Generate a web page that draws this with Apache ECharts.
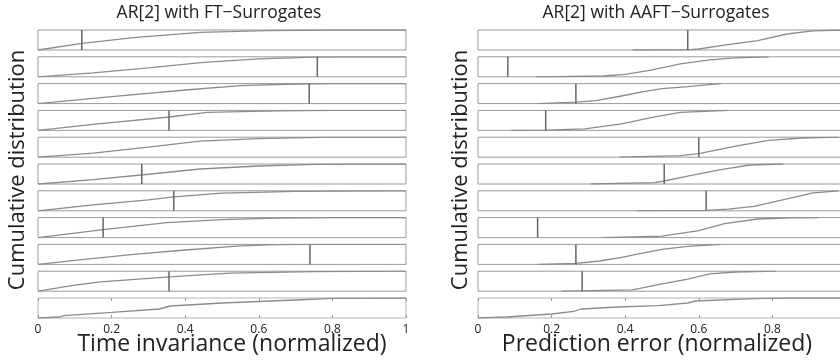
<!DOCTYPE html>
<html>
<head>
<meta charset="utf-8">
<script src="https://cdn.jsdelivr.net/npm/echarts@6/dist/echarts.min.js"></script>
<style>
  html, body { margin: 0; padding: 0; background: #fff; overflow: hidden; }
  #chart { width: 860px; height: 362px; }
</style>
</head>
<body>
<div id="chart"></div>
<script>
// Empirical cumulative distributions of the surrogate statistic, one strip per realisation.
// Each curve is a list of [value, cumulative fraction] points; the marker is the value for the original series.
const ftCurves = [
  [[0,0],[0.12,0.33],[0.26,0.62],[0.44,0.88],[0.62,0.97],[0.8,1],[1,1]],
  [[0,0],[0.15,0.2],[0.3,0.45],[0.45,0.72],[0.6,0.9],[0.75,0.98],[0.85,1],[1,1]],
  [[0,0],[0.2,0.35],[0.4,0.68],[0.55,0.9],[0.7,0.98],[0.8,1],[1,1]],
  [[0,0],[0.15,0.3],[0.356,0.67],[0.46,0.9],[0.65,0.98],[0.8,1],[1,1]],
  [[0,0],[0.15,0.2],[0.3,0.5],[0.44,0.8],[0.6,0.93],[0.8,1],[1,1]],
  [[0,0],[0.15,0.22],[0.28,0.45],[0.44,0.75],[0.6,0.9],[0.75,0.98],[0.9,1],[1,1]],
  [[0,0],[0.15,0.3],[0.3,0.55],[0.369,0.7],[0.5,0.88],[0.7,0.97],[0.95,1],[1,1]],
  [[0,0],[0.177,0.4],[0.35,0.75],[0.5,0.9],[0.65,0.97],[0.8,1],[1,1]],
  [[0,0],[0.1,0.2],[0.26,0.5],[0.4,0.72],[0.55,0.93],[0.65,0.99],[0.75,1],[1,1]],
  [[0,0],[0.1,0.3],[0.17,0.47],[0.356,0.72],[0.52,0.9],[0.75,0.98],[1,1]],
  [[0,0],[0.06,0.05],[0.07,0.12],[0.2,0.28],[0.33,0.45],[0.36,0.6],[0.5,0.75],[0.7,0.9],[0.8,0.98],[1,1]]
];
const ftMarkers = [0.119, 0.759, 0.737, 0.356, null, 0.282, 0.369, 0.177, 0.739, 0.356, null];

const aaftCurves = [
  [[0.42,0],[0.57,0.01],[0.6,0.05],[0.66,0.22],[0.76,0.47],[0.84,0.8],[0.91,0.96],[1,1]],
  [[0.158,0],[0.34,0.04],[0.4,0.12],[0.47,0.33],[0.55,0.65],[0.63,0.85],[0.7,0.95],[0.79,1]],
  [[0.164,0],[0.266,0.07],[0.32,0.15],[0.39,0.38],[0.45,0.6],[0.5,0.75],[0.57,0.85],[0.66,1]],
  [[0.09,0],[0.184,0.01],[0.29,0.08],[0.39,0.33],[0.48,0.68],[0.55,0.9],[0.68,1]],
  [[0.384,0],[0.55,0.08],[0.6,0.18],[0.7,0.55],[0.79,0.84],[0.88,0.96],[0.98,1]],
  [[0.307,0],[0.48,0.07],[0.506,0.15],[0.59,0.47],[0.66,0.72],[0.74,0.95],[0.83,1]],
  [[0.431,0],[0.62,0.02],[0.68,0.08],[0.75,0.22],[0.84,0.6],[0.91,0.9],[0.98,1]],
  [[0.34,0],[0.5,0.07],[0.6,0.35],[0.67,0.7],[0.76,0.93],[0.85,0.99],[0.925,1]],
  [[0.164,0],[0.266,0.05],[0.33,0.17],[0.39,0.35],[0.45,0.58],[0.5,0.75],[0.57,0.9],[0.66,1]],
  [[0.227,0],[0.42,0.07],[0.49,0.33],[0.57,0.6],[0.63,0.87],[0.7,0.96],[0.81,1]],
  [[0,0],[0.077,0.05],[0.2,0.2],[0.26,0.33],[0.28,0.45],[0.38,0.55],[0.49,0.62],[0.57,0.75],[0.59,0.85],[0.75,0.97],[0.84,1],[1,1]]
];
const aaftMarkers = [0.57, 0.081, 0.266, 0.184, 0.6, 0.506, 0.62, 0.162, 0.266, 0.283, null];

const panelTitles = ['AR[2] with FT\u2212Surrogates', 'AR[2] with AAFT\u2212Surrogates'];
const axisTitles = ['Time invariance (normalized)', 'Prediction error (normalized)'];
const yTitle = 'Cumulative distribution';
const xMin = 0, xMax = 1, xStep = 0.2;

const FONT = '"Open Sans", "Noto Sans", sans-serif';
const panels = [
  { left: 38, width: 368, curves: ftCurves, markers: ftMarkers },
  { left: 478, width: 368, curves: aaftCurves, markers: aaftMarkers }
];
const ROWS = 11, ROW_TOP = 30, ROW_PITCH = 26.8, ROW_H = 20;

const grid = [], xAxis = [], yAxis = [], series = [];

panels.forEach((p) => {
  for (let r = 0; r < ROWS; r++) {
    const gi = grid.length;
    const last = r === ROWS - 1;
    grid.push({
      left: p.left, width: p.width,
      top: ROW_TOP + r * ROW_PITCH, height: ROW_H,
      show: true, borderColor: last ? '#b4b4b4' : '#9a9a9a', borderWidth: 1,
      backgroundColor: 'transparent'
    });
    const xi = xAxis.length;
    xAxis.push({
      type: 'value', gridIndex: gi, min: xMin, max: xMax, interval: xStep,
      position: 'bottom',
      axisLine: { show: false },
      splitLine: { show: false },
      axisTick: { show: last, inside: true, length: 3, lineStyle: { color: '#9a9a9a' } },
      axisLabel: { show: last, margin: 6, color: '#222', fontSize: 12, fontFamily: FONT }
    });
    if (last) {
      xAxis.push({
        type: 'value', gridIndex: gi, min: xMin, max: xMax, interval: xStep,
        position: 'top',
        axisLine: { show: false }, splitLine: { show: false },
        axisTick: { show: true, inside: true, length: 3, lineStyle: { color: '#9a9a9a' } },
        axisLabel: { show: false }
      });
    }
    const yi = yAxis.length;
    yAxis.push({ type: 'value', gridIndex: gi, min: 0, max: 1, show: false });
    series.push({
      type: 'line', xAxisIndex: xi, yAxisIndex: yi,
      data: p.curves[r], showSymbol: false, symbol: 'none', silent: true,
      lineStyle: { color: '#8c8c8c', width: 1.3 }, animation: false
    });
    const m = p.markers[r];
    if (m !== null && m !== undefined) {
      series.push({
        type: 'line', xAxisIndex: xi, yAxisIndex: yi,
        data: [[m, 0], [m, 1]], showSymbol: false, symbol: 'none', silent: true,
        lineStyle: { color: '#666', width: 1.5 }, animation: false, z: 3
      });
    }
  }
});

function label(text, x, y, size, rotate) {
  return {
    type: 'text', x: x, y: y, rotation: rotate ? Math.PI / 2 : 0,
    style: { text: text, fill: '#222', font: size + 'px ' + FONT, align: 'center', verticalAlign: 'middle' }
  };
}

const chart = echarts.init(document.getElementById('chart'), null, { renderer: 'canvas' });
chart.setOption({
  animation: false,
  backgroundColor: '#fff',
  grid, xAxis, yAxis, series,
  graphic: [
    label(panelTitles[0], 219, 13, 17.5),
    label(panelTitles[1], 656, 13, 17.5),
    label(axisTitles[0], 232, 344, 23),
    label(axisTitles[1], 657, 344, 23),
    label(yTitle, 18, 170, 22, true),
    label(yTitle, 461, 170, 22, true)
  ]
});
</script>
</body>
</html>
